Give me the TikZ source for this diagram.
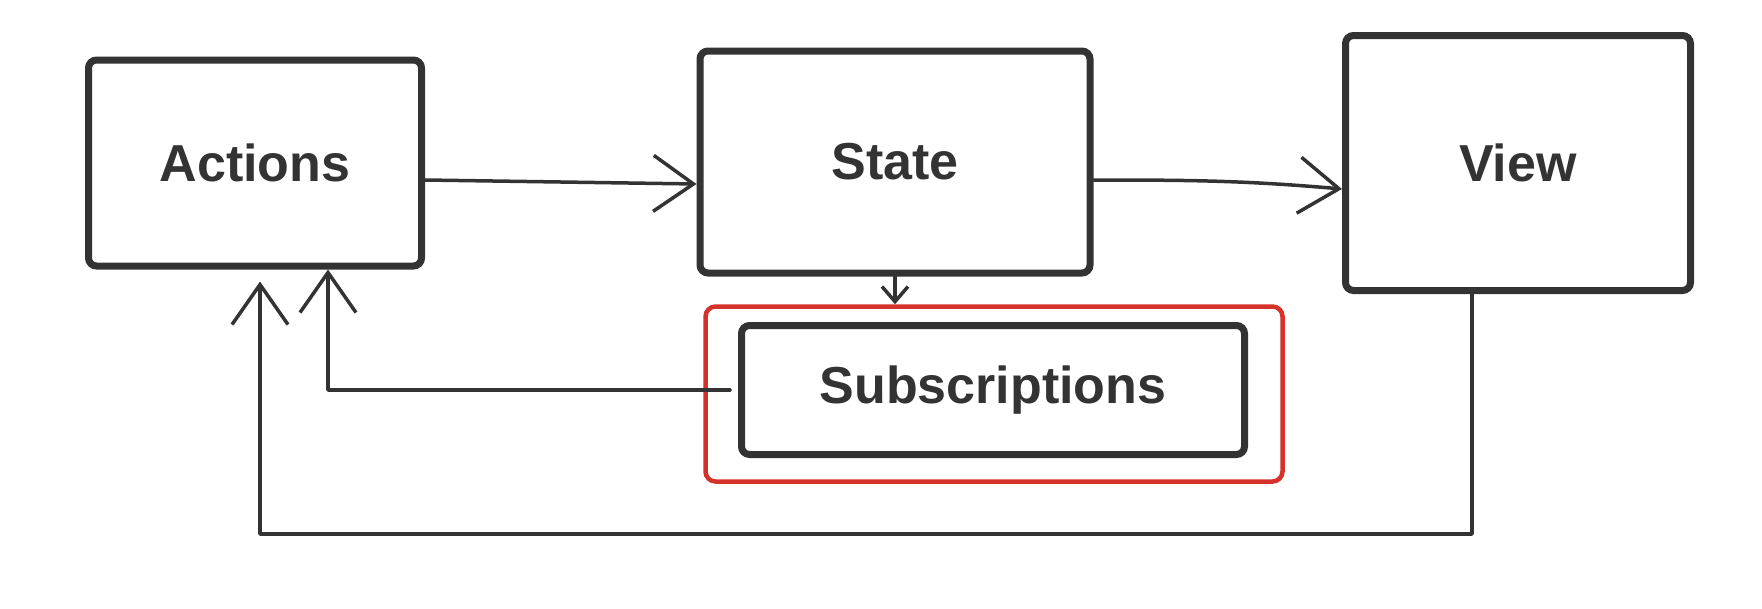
\documentclass[tikz,border=0pt]{standalone}
\usepackage{fontspec}
\setmainfont{Liberation Sans}
\usetikzlibrary{arrows.meta,positioning,calc}
\definecolor{ink}{HTML}{333333}
\definecolor{mark}{HTML}{D4322A}

\begin{document}
\begin{tikzpicture}[x=1pt,y=-1pt,
    box/.style={draw=ink,line width=7pt,rounded corners=8pt,text=ink,font=\fontsize{52}{60}\selectfont\bfseries},
    ring/.style={draw=mark,line width=4.5pt,rounded corners=10pt},
    conn/.style={draw=ink,line width=3.5pt,line cap=round,line join=round,-{Straight Barb[length=40pt,width=56pt,line width=3.5pt]}},
    smalltip/.style={-{Straight Barb[length=15pt,width=26pt,line width=3.5pt]}}]
    \useasboundingbox (0,0) rectangle (1762,608);

    \node[box,minimum width=333pt,minimum height=206pt] (actions) at (255,163) {Actions};
    \node[box,minimum width=390pt,minimum height=222pt] (state)   at (895,162) {State};
    \node[box,minimum width=345pt,minimum height=255pt] (view)    at (1518,163) {View};
    \node[box,minimum width=503pt,minimum height=129pt] (subs)    at (993,390) {Subscriptions};
    \node[ring,minimum width=577pt,minimum height=175pt] (red)    at (994,394) {};

    \draw[conn] ([yshift=-17pt]actions.east) -- ([yshift=-22pt]state.west);
    \draw[conn] ([yshift=-18pt]state.east) to[out=0,in=175] ([yshift=-26pt]view.west);
    \draw[conn,smalltip] (state.south) -- (state.south |- red.north);
    \draw[conn] ([xshift=-8pt]subs.west) -| ([xshift=73pt]actions.south);
    \draw[conn,shorten >=12pt] ([xshift=-46pt]view.south) -- ++(0,240) -| ([xshift=5pt]actions.south);
\end{tikzpicture}
\end{document}
